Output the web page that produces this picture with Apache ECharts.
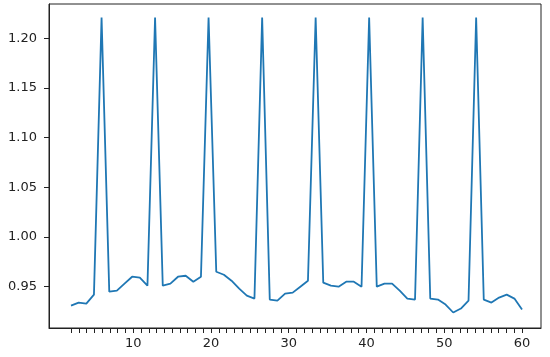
<!DOCTYPE html>
<html>
<head>
<meta charset="utf-8">
<script src="https://cdn.jsdelivr.net/npm/echarts@6/dist/echarts.min.js"></script>
<style>
  html, body { margin: 0; padding: 0; background: #fff; }
  #chart { width: 550px; height: 357px; }
</style>
</head>
<body>
<div id="chart"></div>
<script>
// x positions of the 60 samples (evenly spread between 2 and 60)
const xValues = [
  2.00, 2.98, 3.97, 4.95, 5.93, 6.92, 7.90, 8.88, 9.86, 10.85,
  11.83, 12.81, 13.80, 14.78, 15.76, 16.75, 17.73, 18.71, 19.69, 20.68,
  21.66, 22.64, 23.63, 24.61, 25.59, 26.58, 27.56, 28.54, 29.53, 30.51,
  31.49, 32.47, 33.46, 34.44, 35.42, 36.41, 37.39, 38.37, 39.36, 40.34,
  41.32, 42.31, 43.29, 44.27, 45.25, 46.24, 47.22, 48.20, 49.19, 50.17,
  51.15, 52.14, 53.12, 54.10, 55.08, 56.07, 57.05, 58.03, 59.02, 60.00
]
// values
const yValues = [
  0.931, 0.934, 0.933, 0.942, 1.221, 0.945, 0.946, 0.953, 0.960, 0.959,
  0.951, 1.221, 0.951, 0.953, 0.960, 0.961, 0.955, 0.960, 1.221, 0.965,
  0.962, 0.956, 0.948, 0.941, 0.938, 1.221, 0.937, 0.936, 0.943, 0.944,
  0.950, 0.956, 1.221, 0.954, 0.951, 0.950, 0.955, 0.955, 0.950, 1.221,
  0.950, 0.953, 0.953, 0.946, 0.938, 0.937, 1.221, 0.938, 0.937, 0.932,
  0.924, 0.928, 0.936, 1.221, 0.937, 0.934, 0.939, 0.942, 0.938, 0.927
]
// tick marks and labels
const xTicks = [
  2, 3, 4, 5, 6, 7, 8, 9, 10, 11, 12, 13, 14, 15, 16, 17, 18, 19, 20,
  21, 22, 23, 24, 25, 26, 27, 28, 29, 30, 31, 32, 33, 34, 35, 36, 37, 38, 39, 40,
  41, 42, 43, 44, 45, 46, 47, 48, 49, 50, 51, 52, 53, 54, 55, 56, 57, 58, 59, 60
]
const xLabels = [10, 20, 30, 40, 50, 60]
const yTicks = [0.95, 1.00, 1.05, 1.10, 1.15, 1.20]

const chart = echarts.init(document.getElementById('chart'), null, { renderer: 'canvas' })

const labelStyle = {
  color: '#222',
  fontSize: 13,
  fontFamily: 'DejaVu Sans'
}

const option = {
  animation: false,
  grid: {
    left: 49,
    right: 9,
    top: 4,
    bottom: 29,
    show: true,
    borderColor: '#222',
    borderWidth: 1
  },
  xAxis: {
    type: 'value',
    min: -0.83,
    max: 62.44,
    axisLine: { show: true, onZero: false, lineStyle: { color: '#222', width: 1 } },
    axisTick: { show: true, length: 5, customValues: xTicks, lineStyle: { color: '#222' } },
    axisLabel: Object.assign({ margin: 9, customValues: xLabels }, labelStyle),
    splitLine: { show: false }
  },
  yAxis: {
    type: 'value',
    min: 0.9084,
    max: 1.2345,
    axisLine: { show: true, onZero: false, lineStyle: { color: '#222', width: 1 } },
    axisTick: { show: true, length: 5, customValues: yTicks, lineStyle: { color: '#222' } },
    axisLabel: Object.assign({
      margin: 12,
      customValues: yTicks,
      formatter: (v) => v.toFixed(2)
    }, labelStyle),
    splitLine: { show: false }
  },
  series: [
    {
      type: 'line',
      data: xValues.map((x, i) => [x, yValues[i]]),
      showSymbol: false,
      lineStyle: { color: '#1f77b4', width: 1.8 },
      itemStyle: { color: '#1f77b4' }
    }
  ]
}

chart.setOption(option)
</script>
</body>
</html>
